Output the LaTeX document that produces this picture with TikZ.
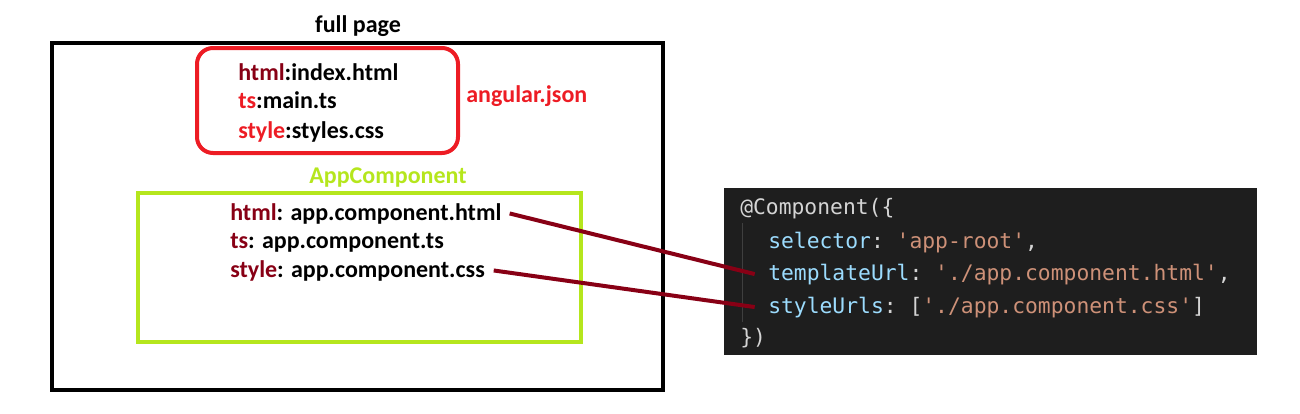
\documentclass[tikz,border=0pt]{standalone}
\usepackage{fontspec}
\setmainfont{Carlito}
\setmonofont{DejaVu Sans Mono}
\usetikzlibrary{positioning}

\definecolor{keymaroon}{HTML}{880015}
\definecolor{jsonred}{HTML}{ED1C24}
\definecolor{appgreen}{HTML}{B5E61D}
\definecolor{codebg}{HTML}{1E1E1E}
\definecolor{codeprop}{HTML}{9CDCFE}
\definecolor{codestr}{HTML}{CE9178}
\definecolor{codetxt}{HTML}{D4D4D4}

\begin{document}
\begin{tikzpicture}[x=0.75pt, y=-0.75pt,
    entry/.style={font=\bfseries\fontsize{18}{22}\selectfont, inner sep=0pt, anchor=base west},
    codeline/.style={font=\ttfamily\fontsize{16}{20}\selectfont, inner sep=0pt, anchor=base west, text=codetxt},
    frame/.style={line width=3pt},
    link/.style={draw=keymaroon, line width=3pt}
]
\useasboundingbox (0,0) rectangle (1300,414);

% Full page frame
\node[entry, anchor=base] (fullpage) at (358,32) {full page};
\draw[frame] (52,43) rectangle (663,390);

% angular.json box
\draw[frame, jsonred, rounded corners=12pt] (197,48) rectangle (458,153);
\node[entry] (idx) at (238,80)  {\textcolor{keymaroon}{html}:index.html};
\node[entry] (mts) at (238,108) {\textcolor{jsonred}{ts}:main.ts};
\node[entry] (sty) at (238,138) {\textcolor{jsonred}{style}:styles.css};
\node[entry, text=jsonred] (angjson) at (466,102) {angular.json};

% AppComponent box
\node[entry, anchor=base, text=appgreen] (appcomp) at (388,183) {AppComponent};
\draw[frame, appgreen] (138,193) rectangle (581,342);
\node[entry] (achtml)  at (230,220) {\textcolor{keymaroon}{html}: app.component.html};
\node[entry] (acts)    at (230,248) {\textcolor{keymaroon}{ts}: app.component.ts};
\node[entry] (acstyle) at (230,277) {\textcolor{keymaroon}{style}: app.component.css};

% Decorator code
\fill[codebg] (724,188) rectangle (1257,355);
\draw[black!70!codetxt, line width=0.75pt] (742,223) -- (742,322);
\node[codeline] (deco)   at (740,214) {@Component(\{};
\node[codeline] (sel)    at (768,248) {\textcolor{codeprop}{selector}: \textcolor{codestr}{'app-root'},};
\node[codeline] (tplurl) at (768,280) {\textcolor{codeprop}{templateUrl}: \textcolor{codestr}{'./app.component.html'},};
\node[codeline] (styurl) at (768,313) {\textcolor{codeprop}{styleUrls}: [\textcolor{codestr}{'./app.component.css'}]};
\node[codeline] (close)  at (740,344) {\})};

% Links
\draw[link] ([xshift=6pt]achtml.east) -- ([xshift=-10pt]tplurl.west);
\draw[link] ([xshift=6.5pt]acstyle.east) -- ([xshift=-10pt]styurl.west);

\end{tikzpicture}
\end{document}
